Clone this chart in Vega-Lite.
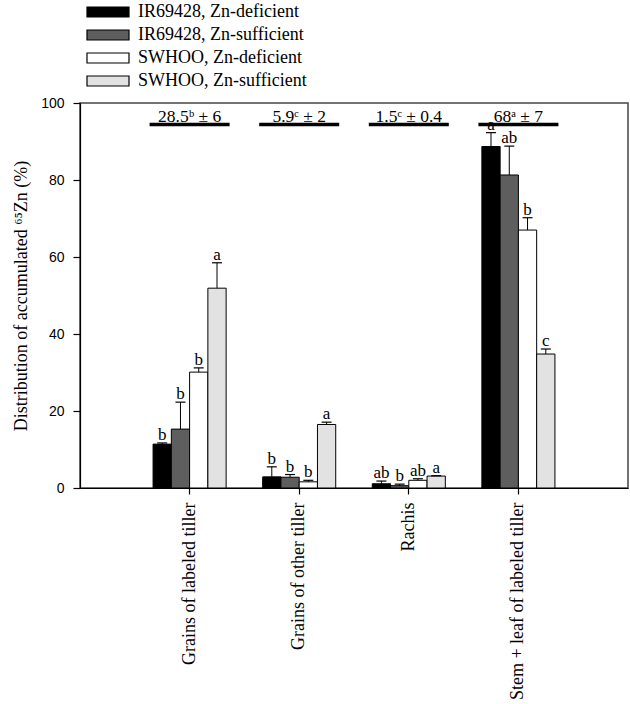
{
  "$schema": "https://vega.github.io/schema/vega-lite/v6.json",
  "width": 548,
  "height": 385,
  "autosize": {"type": "none"},
  "padding": {"left": 80, "top": 103, "right": 2, "bottom": 216},
  "config": {
    "view": {"stroke": "#444", "strokeWidth": 1.5},
    "font": "Liberation Serif",
    "axis": {"domainColor": "black", "tickColor": "black", "labelColor": "black", "titleColor": "black", "grid": false, "domainWidth": 1.2, "tickWidth": 1.2}
  },
  "datasets": {
    "bars": [
      {"tissue": "Grains of labeled tiller", "group": "IR69428, Zn-deficient", "mean": 11.4, "top": 11.7, "letter": "b"},
      {"tissue": "Grains of labeled tiller", "group": "IR69428, Zn-sufficient", "mean": 15.3, "top": 22.3, "letter": "b"},
      {"tissue": "Grains of labeled tiller", "group": "SWHOO, Zn-deficient", "mean": 30.1, "top": 31.2, "letter": "b"},
      {"tissue": "Grains of labeled tiller", "group": "SWHOO, Zn-sufficient", "mean": 51.9, "top": 58.5, "letter": "a"},
      {"tissue": "Grains of other tiller", "group": "IR69428, Zn-deficient", "mean": 2.9, "top": 5.5, "letter": "b"},
      {"tissue": "Grains of other tiller", "group": "IR69428, Zn-sufficient", "mean": 2.8, "top": 3.5, "letter": "b"},
      {"tissue": "Grains of other tiller", "group": "SWHOO, Zn-deficient", "mean": 1.6, "top": 2.0, "letter": "b"},
      {"tissue": "Grains of other tiller", "group": "SWHOO, Zn-sufficient", "mean": 16.5, "top": 17.1, "letter": "a"},
      {"tissue": "Rachis", "group": "IR69428, Zn-deficient", "mean": 1.1, "top": 1.8, "letter": "ab"},
      {"tissue": "Rachis", "group": "IR69428, Zn-sufficient", "mean": 0.6, "top": 1.0, "letter": "b"},
      {"tissue": "Rachis", "group": "SWHOO, Zn-deficient", "mean": 2.0, "top": 2.4, "letter": "ab"},
      {"tissue": "Rachis", "group": "SWHOO, Zn-sufficient", "mean": 3.1, "top": 3.2, "letter": "a"},
      {"tissue": "Stem + leaf of labeled tiller", "group": "IR69428, Zn-deficient", "mean": 88.7, "top": 92.3, "letter": "a"},
      {"tissue": "Stem + leaf of labeled tiller", "group": "IR69428, Zn-sufficient", "mean": 81.3, "top": 88.8, "letter": "ab"},
      {"tissue": "Stem + leaf of labeled tiller", "group": "SWHOO, Zn-deficient", "mean": 67.0, "top": 70.2, "letter": "b"},
      {"tissue": "Stem + leaf of labeled tiller", "group": "SWHOO, Zn-sufficient", "mean": 34.8, "top": 36.1, "letter": "c"}
    ],
    "totals": [
      {"tissue": "Grains of labeled tiller", "label": "28.5ᵇ ± 6"},
      {"tissue": "Grains of other tiller", "label": "5.9ᶜ ± 2"},
      {"tissue": "Rachis", "label": "1.5ᶜ ± 0.4"},
      {"tissue": "Stem + leaf of labeled tiller", "label": "68ᵃ ± 7"}
    ]
  },
  "encoding": {
    "x": {
      "field": "tissue", "type": "nominal",
      "sort": ["Grains of labeled tiller", "Grains of other tiller", "Rachis", "Stem + leaf of labeled tiller"],
      "scale": {"paddingInner": 0, "paddingOuter": 0.5},
      "axis": {"title": null, "labelAngle": -90, "labelFont": "Liberation Serif", "labelFontSize": 18, "tickSize": 6, "labelPadding": 8, "labelLimit": 300}
    }
  },
  "layer": [
    {
      "data": {"name": "bars"},
      "mark": {"type": "bar", "stroke": "black", "strokeWidth": 1},
      "encoding": {
        "xOffset": {"field": "group", "type": "nominal", "sort": ["IR69428, Zn-deficient", "IR69428, Zn-sufficient", "SWHOO, Zn-deficient", "SWHOO, Zn-sufficient"], "scale": {"paddingInner": 0, "paddingOuter": 1.36}},
        "y": {
          "field": "mean", "type": "quantitative",
          "scale": {"domain": [0, 100], "nice": false},
          "axis": {"title": "Distribution of accumulated ⁶⁵Zn (%)", "titleFont": "Liberation Serif", "titleFontSize": 18, "titleFontWeight": "normal", "titlePadding": 10, "values": [0, 20, 40, 60, 80, 100], "labelFont": "Liberation Sans", "labelFontSize": 14, "tickSize": 7, "labelPadding": 9}
        },
        "fill": {
          "field": "group", "type": "nominal",
          "sort": ["IR69428, Zn-deficient", "IR69428, Zn-sufficient", "SWHOO, Zn-deficient", "SWHOO, Zn-sufficient"],
          "scale": {"range": ["#000000", "#5e5e5e", "#ffffff", "#e2e2e2"]},
          "legend": {
            "title": null, "orient": "none", "legendX": 19, "legendY": -100,
            "symbolType": "M-4.2,-1L4.2,-1L4.2,1L-4.2,1Z", "symbolSize": 100,
            "symbolStrokeColor": "black", "symbolStrokeWidth": 1.2,
            "labelFont": "Liberation Serif", "labelFontSize": 18, "labelColor": "black", "labelLimit": 300,
            "rowPadding": 5, "labelOffset": 21
          }
        }
      }
    },
    {
      "data": {"name": "bars"},
      "mark": {"type": "rule", "color": "black", "strokeWidth": 1},
      "encoding": {
        "xOffset": {"field": "group", "type": "nominal", "sort": ["IR69428, Zn-deficient", "IR69428, Zn-sufficient", "SWHOO, Zn-deficient", "SWHOO, Zn-sufficient"]},
        "y": {"field": "mean", "type": "quantitative"},
        "y2": {"field": "top"}
      }
    },
    {
      "data": {"name": "bars"},
      "mark": {"type": "tick", "color": "black", "opacity": 1, "size": 10, "thickness": 1.2, "orient": "horizontal"},
      "encoding": {
        "xOffset": {"field": "group", "type": "nominal", "sort": ["IR69428, Zn-deficient", "IR69428, Zn-sufficient", "SWHOO, Zn-deficient", "SWHOO, Zn-sufficient"]},
        "y": {"field": "top", "type": "quantitative"}
      }
    },
    {
      "data": {"name": "bars"},
      "mark": {"type": "text", "font": "Liberation Serif", "fontSize": 17, "color": "black", "baseline": "alphabetic", "dy": -3},
      "encoding": {
        "xOffset": {"field": "group", "type": "nominal", "sort": ["IR69428, Zn-deficient", "IR69428, Zn-sufficient", "SWHOO, Zn-deficient", "SWHOO, Zn-sufficient"]},
        "y": {"field": "top", "type": "quantitative"},
        "text": {"field": "letter"}
      }
    },
    {
      "data": {"name": "totals"},
      "mark": {"type": "tick", "color": "black", "opacity": 1, "size": 80, "thickness": 3.5, "orient": "horizontal"},
      "encoding": {
        "y": {"datum": 94.4, "type": "quantitative"}
      }
    },
    {
      "data": {"name": "totals"},
      "mark": {"type": "text", "font": "Liberation Serif, DejaVu Serif", "fontSize": 17.5, "color": "black", "baseline": "alphabetic", "dy": -3},
      "encoding": {
        "y": {"datum": 94.4, "type": "quantitative"},
        "text": {"field": "label"}
      }
    }
  ]
}
